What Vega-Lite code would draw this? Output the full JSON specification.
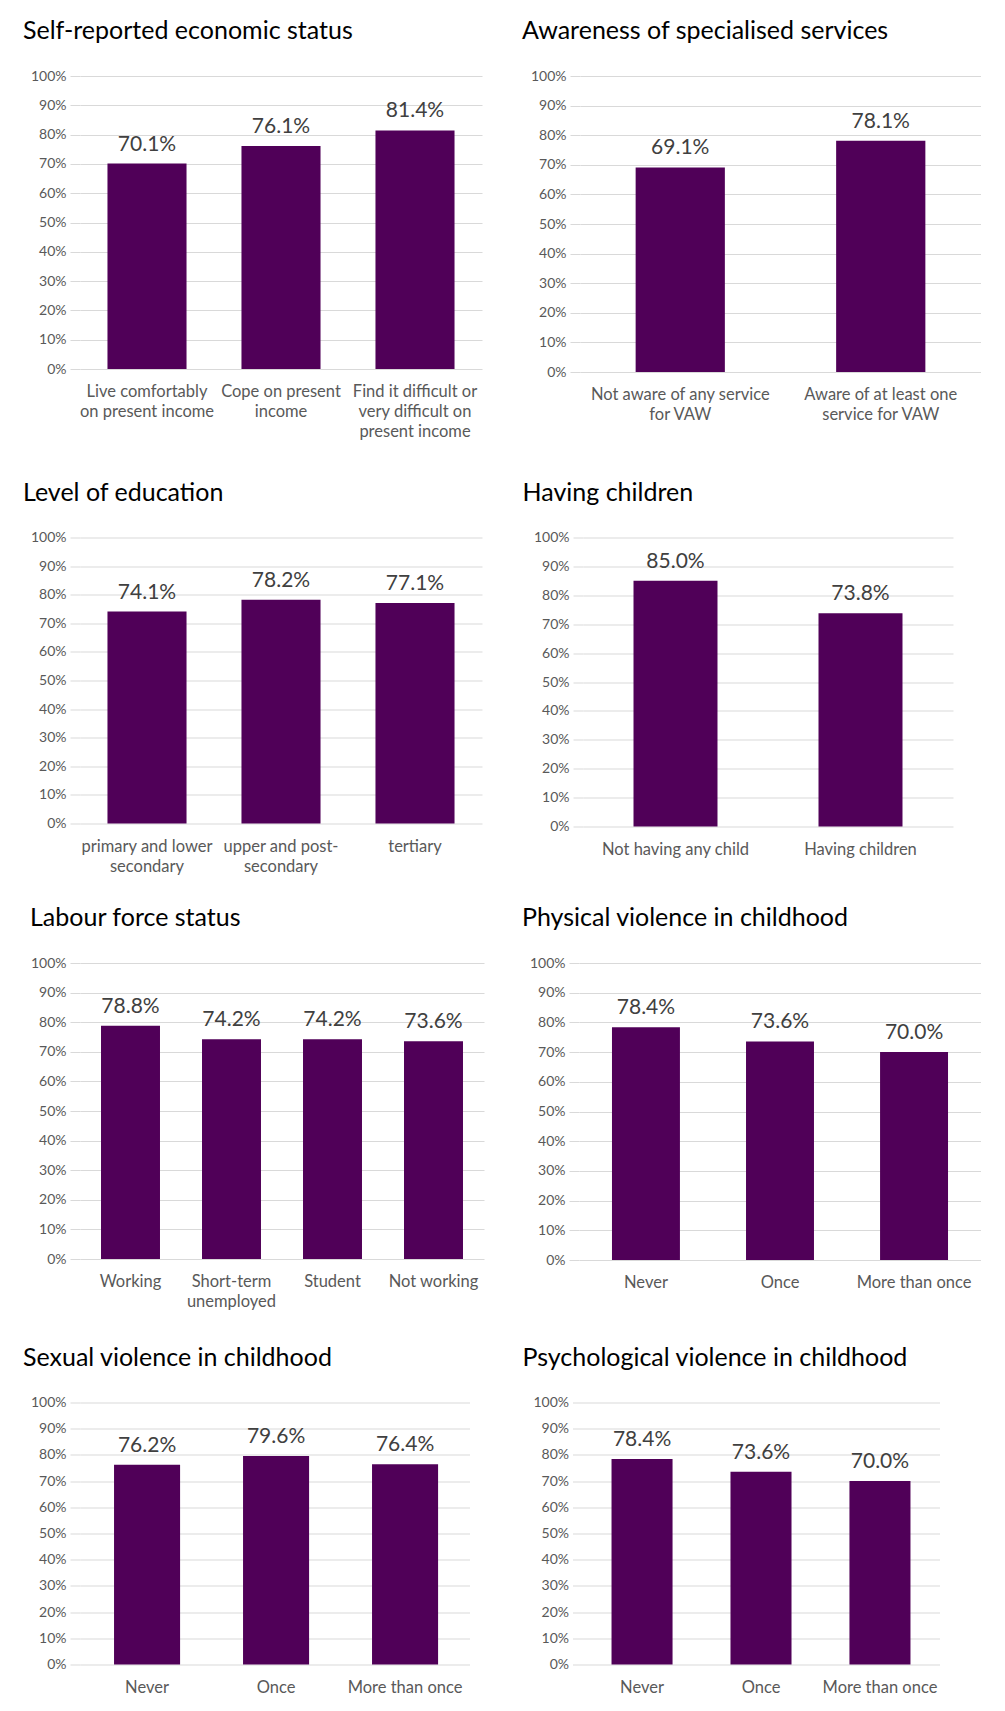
{
  "$schema": "https://vega.github.io/schema/vega-lite/v6.json",
  "padding": {"left": 23, "top": 19, "right": 0, "bottom": 0},
  "background": "white",
  "config": {
    "font": "Lato",
    "view": {"stroke": null},
    "title": {"font": "Lato", "fontSize": 25, "fontWeight": "normal", "color": "#000000", "anchor": "start", "frame": "group", "offset": 25},
    "bar": {"color": "#500058"},
    "axisY": {"tickCount": 10, "format": ".0%", "labelFont": "Lato", "labelFontSize": 14, "labelColor": "#595959", "ticks": true, "tickSize": 10, "tickColor": "#d9d9d9", "labelPadding": 4, "domain": false, "grid": true, "gridColor": "#d9d9d9", "gridWidth": 1.2, "title": null},
    "axisX": {"labelAngle": 0, "labelFont": "Lato", "labelFontSize": 16.5, "labelColor": "#595959", "labelPadding": 14.5, "labelLineHeight": 20, "ticks": false, "domain": false, "grid": false, "title": null, "labelExpr": "split(datum.label, '\\n')", "labelLimit": 300},
    "text": {"font": "Lato", "fontSize": 21, "color": "#404040", "baseline": "alphabetic", "dy": -13}
  },
  "datasets": {
    "econ": [
      {"category": "Live comfortably\non present income", "value": 0.701},
      {"category": "Cope on present\nincome", "value": 0.761},
      {"category": "Find it difficult or\nvery difficult on\npresent income", "value": 0.814}
    ],
    "aware": [
      {"category": "Not aware of any service\nfor VAW", "value": 0.691},
      {"category": "Aware of at least one\nservice for VAW", "value": 0.781}
    ],
    "edu": [
      {"category": "primary and lower\nsecondary", "value": 0.741},
      {"category": "upper and post-\nsecondary", "value": 0.782},
      {"category": "tertiary", "value": 0.771}
    ],
    "children": [
      {"category": "Not having any child", "value": 0.85},
      {"category": "Having children", "value": 0.738}
    ],
    "labour": [
      {"category": "Working", "value": 0.788},
      {"category": "Short-term\nunemployed", "value": 0.742},
      {"category": "Student", "value": 0.742},
      {"category": "Not working", "value": 0.736}
    ],
    "physical": [
      {"category": "Never", "value": 0.784},
      {"category": "Once", "value": 0.736},
      {"category": "More than once", "value": 0.70}
    ],
    "sexual": [
      {"category": "Never", "value": 0.762},
      {"category": "Once", "value": 0.796},
      {"category": "More than once", "value": 0.764}
    ],
    "psych": [
      {"category": "Never", "value": 0.784},
      {"category": "Once", "value": 0.736},
      {"category": "More than once", "value": 0.70}
    ]
  },
  "spacing": 31,
  "vconcat": [
    {
      "spacing": 40.5,
      "vconcat": [
        {
          "spacing": 40,
          "hconcat": [
            {
              "title": {"text": "Self-reported economic status", "dx": -57},
              "width": 402, "height": 293,
              "data": {"name": "econ"},
              "encoding": {
                "x": {"field": "category", "type": "nominal", "sort": null, "scale": {"paddingInner": 0.41, "paddingOuter": 0.205}},
                "y": {"field": "value", "type": "quantitative", "scale": {"domain": [0, 1]}}
              },
              "layer": [
                {"mark": "bar"},
                {"mark": "text", "encoding": {"text": {"field": "value", "format": ".1%"}}}
              ]
            },
            {
              "title": {"text": "Awareness of specialised services", "dx": -58},
              "width": 401, "height": 296,
              "data": {"name": "aware"},
              "encoding": {
                "x": {"field": "category", "type": "nominal", "sort": null, "scale": {"paddingInner": 0.555, "paddingOuter": 0.2775}},
                "y": {"field": "value", "type": "quantitative", "scale": {"domain": [0, 1]}}
              },
              "layer": [
                {"mark": "bar"},
                {"mark": "text", "encoding": {"text": {"field": "value", "format": ".1%"}}}
              ]
            }
          ]
        },
        {
          "spacing": 40,
          "hconcat": [
            {
              "title": {"text": "Level of education", "dx": -57},
              "width": 402, "height": 286,
              "data": {"name": "edu"},
              "encoding": {
                "x": {"field": "category", "type": "nominal", "sort": null, "scale": {"paddingInner": 0.41, "paddingOuter": 0.205}},
                "y": {"field": "value", "type": "quantitative", "scale": {"domain": [0, 1]}}
              },
              "layer": [
                {"mark": "bar"},
                {"mark": "text", "encoding": {"text": {"field": "value", "format": ".1%"}}}
              ]
            },
            {
              "title": {"text": "Having children", "dx": -60.5},
              "width": 370, "height": 289,
              "data": {"name": "children"},
              "encoding": {
                "x": {"field": "category", "type": "nominal", "sort": null, "scale": {"paddingInner": 0.546, "paddingOuter": 0.273}},
                "y": {"field": "value", "type": "quantitative", "scale": {"domain": [0, 1]}}
              },
              "layer": [
                {"mark": "bar"},
                {"mark": "text", "encoding": {"text": {"field": "value", "format": ".1%"}}}
              ]
            }
          ]
        }
      ]
    },
    {
      "spacing": 35.5,
      "vconcat": [
        {
          "spacing": 38,
          "hconcat": [
            {
              "title": {"text": "Labour force status", "dx": -50},
              "width": 404, "height": 296,
              "data": {"name": "labour"},
              "encoding": {
                "x": {"field": "category", "type": "nominal", "sort": null, "scale": {"paddingInner": 0.416, "paddingOuter": 0.208}},
                "y": {"field": "value", "type": "quantitative", "scale": {"domain": [0, 1]}, "axis": {"minExtent": 57}}
              },
              "layer": [
                {"mark": "bar"},
                {"mark": "text", "encoding": {"text": {"field": "value", "format": ".1%"}}}
              ]
            },
            {
              "title": {"text": "Physical violence in childhood", "dx": -57},
              "width": 402, "height": 297,
              "data": {"name": "physical"},
              "encoding": {
                "x": {"field": "category", "type": "nominal", "sort": null, "scale": {"paddingInner": 0.493, "paddingOuter": 0.246}},
                "y": {"field": "value", "type": "quantitative", "scale": {"domain": [0, 1]}}
              },
              "layer": [
                {"mark": "bar"},
                {"mark": "text", "encoding": {"text": {"field": "value", "format": ".1%"}}}
              ]
            }
          ]
        },
        {
          "spacing": 52.5,
          "hconcat": [
            {
              "title": {"text": "Sexual violence in childhood", "dx": -57},
              "width": 389.5, "height": 262,
              "data": {"name": "sexual"},
              "encoding": {
                "x": {"field": "category", "type": "nominal", "sort": null, "scale": {"paddingInner": 0.488, "paddingOuter": 0.2537, "align": 0.52}},
                "y": {"field": "value", "type": "quantitative", "scale": {"domain": [0, 1]}}
              },
              "layer": [
                {"mark": "bar"},
                {"mark": "text", "encoding": {"text": {"field": "value", "format": ".1%"}}}
              ]
            },
            {
              "title": {"text": "Psychological violence in childhood", "dx": -60},
              "width": 357, "height": 262,
              "data": {"name": "psych"},
              "encoding": {
                "x": {"field": "category", "type": "nominal", "sort": null, "scale": {"paddingInner": 0.487, "paddingOuter": 0.244}},
                "y": {"field": "value", "type": "quantitative", "scale": {"domain": [0, 1]}}
              },
              "layer": [
                {"mark": "bar"},
                {"mark": "text", "encoding": {"text": {"field": "value", "format": ".1%"}}}
              ]
            }
          ]
        }
      ]
    }
  ]
}
